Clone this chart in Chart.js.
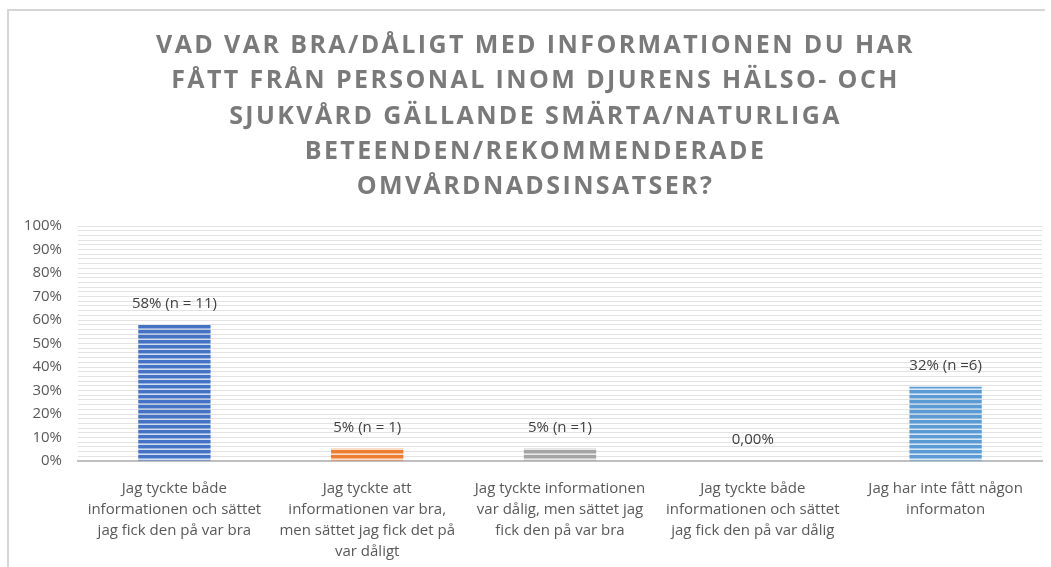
<!DOCTYPE html>
<html>
<head>
<meta charset="utf-8">
<script src="https://cdn.jsdelivr.net/npm/chart.js@4.4.1/dist/chart.umd.min.js"></script>
<style>
  html, body { margin: 0; padding: 0; background: #ffffff; }
  #wrap { position: relative; width: 1051px; height: 567px; overflow: hidden; }
  #frame { position: absolute; left: 7px; top: 9px; width: 1036px; height: 570px;
           border-left: 2px solid #d6d6d6; border-top: 2px solid #d6d6d6; }
  #title { position: absolute; left: 10px; top: 26px; width: 1051px; text-align: center;
           font-family: "Open Sans", sans-serif; font-weight: 700; font-size: 25px;
           line-height: 35.3px; letter-spacing: 2.4px; color: #7a7a7a; }
  canvas { position: absolute; left: 0; top: 0; }
</style>
</head>
<body>
<div id="wrap">
  <div id="frame"></div>
  <canvas id="chart" width="1051" height="567"></canvas>
  <div id="title">VAD VAR BRA/DÅLIGT MED INFORMATIONEN DU HAR<br>FÅTT FRÅN PERSONAL INOM DJURENS HÄLSO- OCH<br>SJUKVÅRD GÄLLANDE SMÄRTA/NATURLIGA<br>BETEENDEN/REKOMMENDERADE<br>OMVÅRDNADSINSATSER?</div>
</div>
<script>
const categories = [
    ["Jag tyckte både", "informationen och sättet", "jag fick den på var bra"],
    ["Jag tyckte att", "informationen var bra,", "men sättet jag fick det på", "var dåligt"],
    ["Jag tyckte informationen", "var dålig, men sättet jag", "fick den på var bra"],
    ["Jag tyckte både", "informationen och sättet", "jag fick den på var dålig"],
    ["Jag har inte fått någon", "informaton"],
];
const values = [57.9, 5.3, 5.3, 0, 31.6];
const valueLabels = ["58% (n = 11)", "5% (n = 1)", "5% (n =1)", "0,00%", "32% (n =6)"];
const barColors = ["#4472c4", "#ed7d31", "#a5a5a5", "#ffc000", "#5b9bd5"];

// horizontal stripe fill like the excel pattern
const stripes = (color) => {
    const c = document.createElement("canvas");
    c.width = 4;
    c.height = 5;
    const ctx = c.getContext("2d");
    ctx.fillStyle = color;
    ctx.fillRect(0, 0, 4, 3);
    ctx.globalAlpha = 0.55;
    ctx.fillRect(0, 3, 4, 1);
    ctx.globalAlpha = 0.25;
    ctx.fillRect(0, 4, 4, 1);
    return ctx.createPattern(c, "repeat");
};

const valueLabelPlugin = {
    id: "valueLabels",
    afterDatasetsDraw(chart) {
        const ctx = chart.ctx;
        const meta = chart.getDatasetMeta(0);
        ctx.save();
        ctx.font = '15px "Open Sans", sans-serif';
        ctx.fillStyle = "#404040";
        ctx.textAlign = "center";
        ctx.textBaseline = "middle";
        meta.data.forEach((bar, i) => {
            ctx.fillText(valueLabels[i], bar.x, bar.y - 21);
        });
        ctx.restore();
    },
};

Chart.defaults.font.family = '"Open Sans", sans-serif';
Chart.defaults.color = "#595959";

const data = {
    labels: categories,
    datasets: [
        {
            data: values,
            backgroundColor: barColors.map(stripes),
            borderWidth: 0,
            barPercentage: 1,
            categoryPercentage: 0.375,
        },
    ],
};

const options = {
    responsive: false,
    animation: false,
    layout: { padding: { top: 226, left: 0, right: 9, bottom: 0 } },
    plugins: {
        legend: { display: false },
        tooltip: { enabled: false },
    },
    scales: {
        x: {
            grid: { display: false },
            border: { color: "#bfbfbf", width: 2 },
            afterFit: (scale) => { scale.height = 106; },
            ticks: {
                font: { size: 15, lineHeight: 1.4 },
                padding: 9,
                maxRotation: 0,
                autoSkip: false,
                color: "#595959",
            },
        },
        y: {
            min: 0,
            max: 100,
            border: { display: false },
            afterFit: (scale) => { scale.width = 78; },
            grid: { color: "#e3e3e3", lineWidth: 1, drawTicks: false },
            ticks: {
                stepSize: 2,
                autoSkip: false,
                maxTicksLimit: 60,
                padding: 16,
                font: { size: 15 },
                color: "#595959",
                callback: (v) => (v % 10 === 0 ? v + "%" : ""),
            },
        },
    },
};

new Chart("chart", { type: "bar", data, options, plugins: [valueLabelPlugin] });
</script>
</body>
</html>
